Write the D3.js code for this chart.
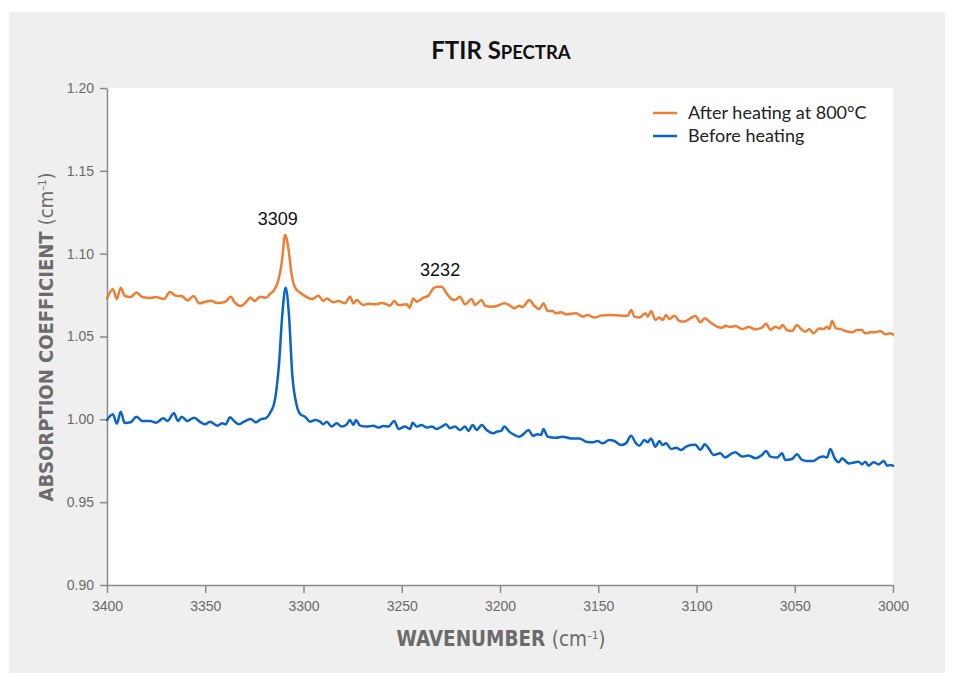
<!DOCTYPE html>
<html>
<head>
<meta charset="utf-8">
<script src="https://cdn.jsdelivr.net/npm/d3@7"></script>
<style>
  body { margin: 0; background: #fff; }
  svg { display: block; }
</style>
</head>
<body>
<div id="chart"></div>
<script>
// values
var xTicks = [3400, 3350, 3300, 3250, 3200, 3150, 3100, 3050, 3000];
var yTicks = [0.90, 0.95, 1.00, 1.05, 1.10, 1.15, 1.20];

var afterWn = [3400, 3397, 3395, 3393, 3391, 3388, 3385, 3382, 3378, 3375, 3371, 3368, 3365, 3362, 3359, 3356, 3353, 3350, 3347, 3344, 3340, 3337, 3335, 3332, 3329, 3327, 3325, 3322, 3319, 3317, 3315, 3313, 3311, 3309.4, 3307.7, 3306, 3304.3, 3302.3,
  3299.2, 3295.8, 3292.4, 3289.9, 3288.2, 3284.8, 3282.3, 3278.9, 3276.3, 3274.6, 3273, 3269.6, 3267, 3263.6, 3260.2, 3257.7, 3256, 3253.8, 3251.7, 3247.5, 3246.1, 3244.1, 3242.4, 3239, 3236.5, 3233.9, 3231.9, 3229.7, 3227.1, 3224.6, 3222.9, 3220.4, 3217.8, 3214.4, 3212.7, 3209.3, 3207.6, 3204.2,
  3202, 3197.8, 3195.3, 3192.7, 3190.2, 3188.5, 3185.1, 3182.5, 3180, 3177.9, 3175.7, 3173.2, 3171.5, 3168.9, 3166.4, 3161.3, 3157.9, 3155.4, 3152, 3148.6, 3144.4, 3137.6, 3135, 3133.3, 3131.6, 3129.1, 3126, 3124.8, 3123.1, 3120.9, 3118.9, 3117.2, 3115.5, 3113.8, 3111.3, 3108.7, 3106.2, 3102.8, 3100.6,
  3098, 3095.8, 3093, 3089.6, 3087, 3085.3, 3082.8, 3080.2, 3076.8, 3073.5, 3070.1, 3066.7, 3064.6, 3062.4, 3059.9, 3057.9, 3056.2, 3054, 3051.4, 3048.9, 3046.7, 3044.6, 3042.6, 3040.4, 3037.8, 3035.3, 3033.6, 3032.4, 3031, 3029, 3026.8, 3024.3, 3020.9, 3018.3, 3015.8, 3014.1, 3011.5, 3009, 3006.5, 3003.9, 3001.4, 3000];
var afterAbs = [1.0730, 1.0785, 1.0726, 1.0795, 1.0746, 1.0738, 1.0765, 1.0738, 1.0732, 1.0738, 1.0726, 1.0769, 1.0746, 1.0744, 1.0718, 1.0744, 1.0700, 1.0710, 1.0716, 1.0702, 1.0708, 1.0740, 1.0706, 1.0684, 1.0710, 1.0736, 1.0714, 1.0740, 1.0734, 1.0758, 1.0779, 1.0831, 1.0952, 1.1113, 1.1032, 1.0871, 1.0795, 1.0770,
  1.0744, 1.0726, 1.0746, 1.0714, 1.0730, 1.0706, 1.0714, 1.0700, 1.0740, 1.0700, 1.0720, 1.0690, 1.0698, 1.0694, 1.0702, 1.0694, 1.0686, 1.0714, 1.0690, 1.0694, 1.0674, 1.0730, 1.0710, 1.0734, 1.0746, 1.0791, 1.0801, 1.0801, 1.0760, 1.0726, 1.0720, 1.0740, 1.0694, 1.0726, 1.0690, 1.0720, 1.0686, 1.0680,
  1.0683, 1.0700, 1.0690, 1.0670, 1.0686, 1.0678, 1.0720, 1.0684, 1.0666, 1.0700, 1.0654, 1.0654, 1.0640, 1.0646, 1.0634, 1.0640, 1.0620, 1.0630, 1.0614, 1.0626, 1.0630, 1.0626, 1.0626, 1.0660, 1.0620, 1.0614, 1.0640, 1.0620, 1.0654, 1.0600, 1.0614, 1.0600, 1.0630, 1.0606, 1.0626, 1.0594, 1.0590, 1.0612, 1.0624,
  1.0586, 1.0610, 1.0586, 1.0560, 1.0553, 1.0565, 1.0557, 1.0563, 1.0545, 1.0557, 1.0543, 1.0553, 1.0577, 1.0541, 1.0559, 1.0549, 1.0569, 1.0539, 1.0533, 1.0569, 1.0545, 1.0529, 1.0545, 1.0519, 1.0549, 1.0545, 1.0559, 1.0545, 1.0594, 1.0549, 1.0545, 1.0533, 1.0525, 1.0539, 1.0539, 1.0519, 1.0525, 1.0525, 1.0533, 1.0513, 1.0519, 1.0512];

var beforeWn = [3400, 3397, 3395, 3393, 3391, 3388, 3385, 3382, 3378, 3375, 3371.3, 3369.3, 3365.9, 3363.9, 3362, 3359.1, 3355.7, 3352.3, 3350.1, 3347.6, 3343.9, 3341.3, 3339.6, 3337.4, 3335, 3332.8, 3330.3, 3326.9, 3324.3, 3321.8, 3319.3, 3316.7, 3314.7, 3312.5, 3310.8, 3309.1, 3307.4, 3305.7, 3303.5, 3301.4,
  3299.2, 3296.7, 3294.1, 3291.6, 3289.9, 3288.2, 3285.7, 3283.1, 3280.6, 3278, 3276.4, 3274.6, 3273.3, 3271.2, 3267.9, 3264.5, 3261.9, 3259.4, 3256.8, 3253.8, 3251.7, 3248.4, 3245.8, 3244.4, 3242.4, 3239.9, 3237.3, 3234.8, 3232.2, 3229.7, 3227.5, 3225.4, 3222.9, 3220.4, 3217.8, 3216.1, 3213.9, 3211.9, 3209.3, 3206.8, 3203.4,
  3201.5, 3199.5, 3197.8, 3195.3, 3192.7, 3190.2, 3188.5, 3185.4, 3183.4, 3180.8, 3179.1, 3177.9, 3175.7, 3171.5, 3168.1, 3163.9, 3159.6, 3156.2, 3152.8, 3150.3, 3147.8, 3144.4, 3141.8, 3138.4, 3135.9, 3133.3, 3130.8, 3129.1, 3126.5, 3124.9, 3123.2, 3120.9, 3118.9, 3117.2, 3115.5, 3112.9, 3110.4, 3107.9, 3105.3, 3102.8, 3100.6,
  3098, 3095.8, 3093.8, 3091.3, 3087.9, 3085.3, 3082.8, 3080.2, 3076.8, 3073.5, 3070.1, 3066.7, 3064.6, 3062.4, 3059, 3056.5, 3054.8, 3051.4, 3048.9, 3046.3, 3043.8, 3040.4, 3037.8, 3035.3, 3033.6, 3031.9, 3029.7, 3027.6, 3025.9, 3022.6, 3019.2, 3017.5, 3015.8, 3014.1, 3012.4, 3009.8, 3007.3, 3004.7, 3003, 3001.3, 3000];
var beforeAbs = [0.9996, 1.0030, 0.9974, 1.0046, 0.9978, 0.9982, 1.0016, 0.9990, 0.9990, 0.9980, 1.0006, 0.9990, 1.0036, 0.9990, 1.0016, 0.9990, 1.0010, 0.9982, 0.9970, 0.9986, 0.9962, 0.9976, 0.9970, 1.0012, 0.9986, 0.9970, 0.9986, 1.0002, 0.9982, 1.0000, 1.0006, 1.0046, 1.0107, 1.0328, 1.0630, 1.0795, 1.0630, 1.0268, 1.0087, 1.0028,
  1.0016, 0.9986, 0.9996, 0.9986, 0.9970, 0.9986, 0.9956, 0.9976, 0.9956, 0.9970, 0.9996, 0.9966, 0.9996, 0.9962, 0.9956, 0.9962, 0.9950, 0.9960, 0.9956, 0.9990, 0.9942, 0.9956, 0.9942, 0.9980, 0.9956, 0.9966, 0.9950, 0.9956, 0.9942, 0.9956, 0.9970, 0.9946, 0.9956, 0.9936, 0.9956, 0.9930, 0.9966, 0.9936, 0.9966, 0.9936, 0.9916,
  0.9926, 0.9930, 0.9956, 0.9926, 0.9906, 0.9895, 0.9906, 0.9936, 0.9901, 0.9910, 0.9906, 0.9942, 0.9895, 0.9889, 0.9895, 0.9885, 0.9885, 0.9865, 0.9861, 0.9869, 0.9855, 0.9875, 0.9869, 0.9845, 0.9855, 0.9901, 0.9855, 0.9841, 0.9875, 0.9861, 0.9885, 0.9835, 0.9869, 0.9845, 0.9855, 0.9821, 0.9829, 0.9815, 0.9835, 0.9845, 0.9847,
  0.9815, 0.9849, 0.9825, 0.9785, 0.9795, 0.9769, 0.9789, 0.9801, 0.9775, 0.9781, 0.9765, 0.9785, 0.9809, 0.9775, 0.9769, 0.9795, 0.9755, 0.9761, 0.9789, 0.9755, 0.9749, 0.9749, 0.9769, 0.9775, 0.9769, 0.9821, 0.9765, 0.9741, 0.9765, 0.9734, 0.9741, 0.9744, 0.9728, 0.9744, 0.9720, 0.9741, 0.9728, 0.9749, 0.9720, 0.9724, 0.9720];

var seriesNames = ["After heating at 800°C", "Before heating"];
var seriesColors = ["#ef7d32", "#0a64c8"];
var peakLabels = [3309, 3232];

var width = 954, height = 673;
var margin = {top: 88, right: 61, bottom: 88, left: 107};

var svg = d3.select("#chart").append("svg")
    .attr("width", width)
    .attr("height", height);

// grey panel and white plot area
svg.append("rect")
    .attr("x", 9).attr("y", 12)
    .attr("width", 936).attr("height", height - 12)
    .attr("fill", "#efefef");

var x = d3.scaleLinear()
    .domain([3400, 3000])
    .range([margin.left, width - margin.right]);
var y = d3.scaleLinear()
    .domain([0.90, 1.20])
    .range([height - margin.bottom, margin.top]);

svg.append("rect")
    .attr("x", x(3400)).attr("y", y(1.20))
    .attr("width", x(3000) - x(3400))
    .attr("height", y(0.90) - y(1.20))
    .attr("fill", "#fff");

var axisColor = "#8a8a8a";
var tickFont = "'Liberation Sans', Arial, sans-serif";

var yAxis = g => g
    .attr("transform", `translate(${margin.left},0)`)
    .call(d3.axisLeft(y).tickValues(yTicks).tickFormat(d3.format(".2f")).tickSize(7).tickSizeOuter(0).tickPadding(6))
    .call(g => g.select(".domain").attr("stroke", axisColor).attr("stroke-width", 1.5))
    .call(g => g.selectAll(".tick line").attr("stroke", axisColor).attr("stroke-width", 1.5))
    .call(g => g.selectAll(".tick text").attr("fill", "#6b6b6b")
        .style("font-family", tickFont).style("font-size", "14px"));

var xAxis = g => g
    .attr("transform", `translate(0,${height - margin.bottom})`)
    .call(d3.axisBottom(x).tickValues(xTicks).tickFormat(d3.format("d")).tickSize(8).tickSizeOuter(0).tickPadding(8))
    .call(g => g.select(".domain").attr("stroke", axisColor).attr("stroke-width", 1.5))
    .call(g => g.selectAll(".tick line").attr("stroke", axisColor).attr("stroke-width", 1.5))
    .call(g => g.selectAll(".tick text").attr("fill", "#6b6b6b")
        .style("font-family", tickFont).style("font-size", "14px"));

svg.append("g").call(xAxis);
svg.append("g").call(yAxis);

var line = d3.line()
    .x(d => x(d[0]))
    .y(d => y(d[1]))
    .curve(d3.curveMonotoneX);

var series = [
  d3.zip(afterWn, afterAbs),
  d3.zip(beforeWn, beforeAbs)
];

// blue underneath, orange on top
[1, 0].forEach(function(i) {
  svg.append("path")
      .datum(series[i])
      .attr("fill", "none")
      .attr("stroke", seriesColors[i])
      .attr("stroke-width", 2.5)
      .attr("stroke-linejoin", "round")
      .attr("stroke-linecap", "round")
      .attr("d", line);
});

// peak labels
var labelY = [1.1175, 1.0865];
var labelDx = [-8, 3];
svg.append("g")
    .selectAll("text")
    .data(peakLabels)
  .join("text")
    .attr("x", (d, i) => x(d) + labelDx[i])
    .attr("y", (d, i) => y(labelY[i]))
    .attr("text-anchor", "middle")
    .style("font-family", tickFont)
    .style("font-size", "18px")
    .attr("fill", "#111")
    .text(d => d);

// legend
var legend = svg.append("g")
    .attr("transform", "translate(653,113)");
seriesNames.forEach(function(name, i) {
  legend.append("line")
      .attr("x1", 0).attr("x2", 24)
      .attr("y1", i * 23).attr("y2", i * 23)
      .attr("stroke", seriesColors[i])
      .attr("stroke-width", 2.5);
  legend.append("text")
      .attr("x", 35)
      .attr("y", i * 23 + 6)
      .style("font-family", "Lato, 'Open Sans', sans-serif")
      .style("font-size", "18px")
      .attr("fill", "#222")
      .text(name);
});

// title
var title = svg.append("text")
    .attr("x", 501)
    .attr("y", 59)
    .attr("text-anchor", "middle")
    .style("font-family", "Lato, sans-serif")
    .style("font-weight", "bold")
    .style("font-size", "24px")
    .attr("fill", "#111");
title.append("tspan").text("FTIR S");
title.append("tspan").style("font-size", "18.5px").text("PECTRA");

// axis titles
var axisTitleFont = "'Liberation Sans Narrow', 'DejaVu Sans Condensed', 'Roboto Condensed', sans-serif";

function unitLabel(sel, label) {
  sel.append("tspan").style("font-weight", "bold").text(label + " ");
  sel.append("tspan").text("(cm");
  sel.append("tspan").attr("dy", -7).style("font-size", "11px").text("–1");
  sel.append("tspan").attr("dy", 7).text(")");
}

svg.append("text")
    .attr("x", 501)
    .attr("y", 646)
    .attr("text-anchor", "middle")
    .style("font-family", axisTitleFont)
    .style("font-stretch", "condensed")
    .style("font-size", "20.5px")
    .attr("fill", "#6b6b6b")
    .call(unitLabel, "WAVENUMBER");

svg.append("text")
    .attr("transform", "translate(53,337) rotate(-90)")
    .attr("text-anchor", "middle")
    .style("font-family", axisTitleFont)
    .style("font-stretch", "condensed")
    .style("font-size", "20px")
    .attr("fill", "#6b6b6b")
    .call(unitLabel, "ABSORPTION COEFFICIENT");
</script>
</body>
</html>
